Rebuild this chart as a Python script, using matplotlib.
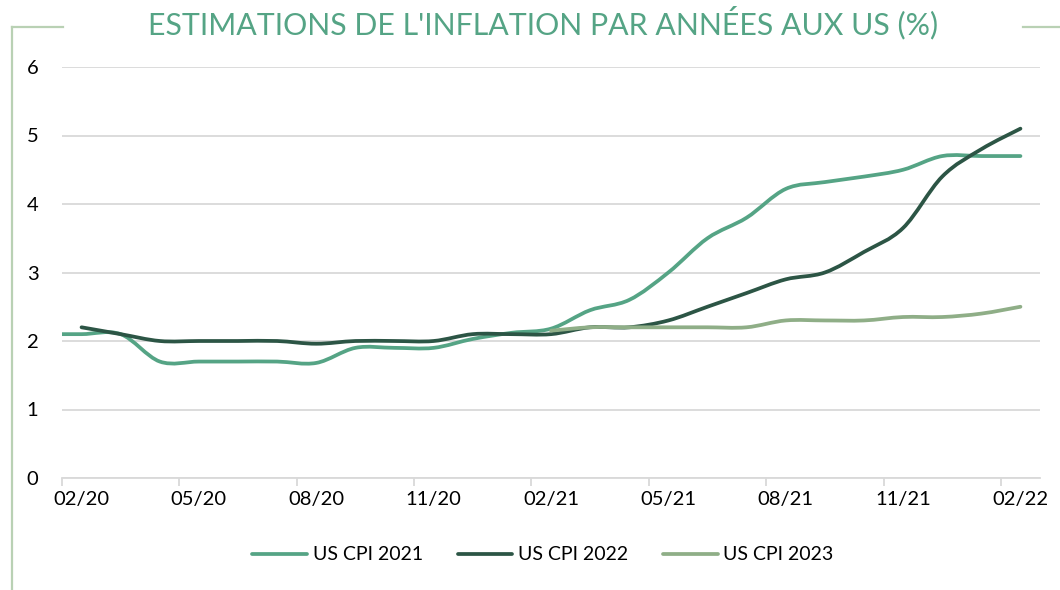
import matplotlib.pyplot as plt
import numpy as np
from matplotlib.path import Path
from matplotlib.patches import PathPatch
from matplotlib.lines import Line2D

plt.rcParams['font.family'] = ['Lato', 'DejaVu Sans']

# month index: 0 = 02/20 ... 24 = 02/22
tick_labels = ['02/20', '05/20', '08/20', '11/20', '02/21',
               '05/21', '08/21', '11/21', '02/22']

x_cpi21 = np.arange(-1, 25)
cpi21 = [2.1, 2.1, 2.1, 1.7, 1.7, 1.7, 1.7, 1.68, 1.9, 1.9, 1.9, 2.03, 2.12,
         2.18, 2.45, 2.6, 3.0, 3.5, 3.8, 4.22, 4.32, 4.4, 4.5, 4.7, 4.7, 4.7]

x_cpi22 = np.arange(0, 25)
cpi22 = [2.2, 2.1, 2.0, 2.0, 2.0, 2.0, 1.96, 2.0, 2.0, 2.0, 2.1, 2.1, 2.1,
         2.2, 2.2, 2.3, 2.5, 2.7, 2.9, 3.0, 3.3, 3.65, 4.4, 4.8, 5.1]

x_cpi23 = np.arange(12, 25)
cpi23 = [2.15, 2.2, 2.2, 2.2, 2.2, 2.2, 2.3, 2.3, 2.3, 2.35, 2.35, 2.4, 2.5]

series = [('US CPI 2021', x_cpi21, cpi21, '#55a485'),
          ('US CPI 2022', x_cpi22, cpi22, '#2c5545'),
          ('US CPI 2023', x_cpi23, cpi23, '#8fae87')]


def smooth_path(x, y):
    # excel-like smoothed line: catmull-rom segments as cubic beziers
    p = np.column_stack([x, y]).astype(float)
    pad = np.vstack([p[0], p, p[-1]])
    verts = [p[0]]
    codes = [Path.MOVETO]
    for i in range(len(p) - 1):
        p0, p1, p2, p3 = pad[i], pad[i + 1], pad[i + 2], pad[i + 3]
        verts += [p1 + (p2 - p0) / 6, p2 - (p3 - p1) / 6, p2]
        codes += [Path.CURVE4] * 3
    return Path(verts, codes)


fig = plt.figure(figsize=(10.6, 5.9), dpi=100)
ax = fig.add_axes([62 / 1060, 1 - 478 / 590, 978 / 1060, 411 / 590])

handles = []
for name, xs, ys, col in series:
    ax.add_patch(PathPatch(smooth_path(xs, ys), facecolor='none', edgecolor=col,
                           lw=2.7, capstyle='round', joinstyle='round', zorder=3))
    handles.append(Line2D([], [], color=col, lw=2.7, solid_capstyle='round'))

ax.set_xlim(-0.5, 24.5)
ax.set_ylim(0, 6)
ax.set_yticks(range(0, 7))
ax.grid(axis='y', color='#d9d9d9', lw=1.3)
ax.set_axisbelow(True)

ax.set_xticks(np.arange(-0.5, 24, 3))
ax.set_xticklabels([])
ax.set_xticks(np.arange(0, 25, 3), minor=True)
ax.set_xticklabels(tick_labels, minor=True)
ax.tick_params(axis='x', which='major', length=6, width=1.3, color='#d9d9d9')
ax.tick_params(axis='x', which='minor', length=0, pad=9, labelsize=14.5)
ax.tick_params(axis='y', length=0, pad=17, labelsize=14.5)

for s in ['top', 'right', 'left']:
    ax.spines[s].set_visible(False)
ax.spines['bottom'].set_color('#d9d9d9')
ax.spines['bottom'].set_linewidth(1.3)

fig.text(543 / 1060, 1 - 23 / 590, "ESTIMATIONS DE L'INFLATION PAR ANNÉES AUX US (%)",
         ha='center', va='center', fontsize=21.8, color='#55a485')

fig.legend(handles, [s[0] for s in series], loc='center', ncol=3, frameon=False,
           bbox_to_anchor=(543 / 1060, 1 - 555 / 590), fontsize=14,
           handlelength=2.8, handletextpad=0.3, columnspacing=1.8)

# decorative frame pieces
frame_col = '#b9d1b4'
fig.add_artist(Line2D([12 / 1060, 12 / 1060], [0, 1 - 27 / 590], color=frame_col, lw=1.6))
fig.add_artist(Line2D([12 / 1060, 63 / 1060], [1 - 27 / 590, 1 - 27 / 590], color=frame_col, lw=1.6))
fig.add_artist(Line2D([1023 / 1060, 1], [1 - 27 / 590, 1 - 27 / 590], color=frame_col, lw=1.6))

fig.savefig('out.png', dpi=100, facecolor='white')
